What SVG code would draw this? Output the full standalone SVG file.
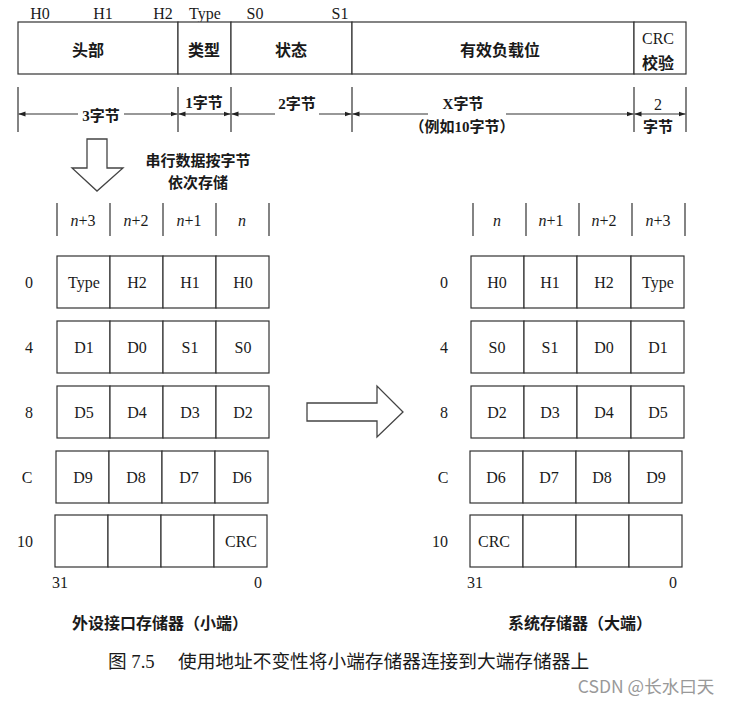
<svg xmlns="http://www.w3.org/2000/svg" width="730" height="701" viewBox="0 0 730 701">
<style>
.t{font-family:"Liberation Serif","Noto Sans CJK SC",serif;font-size:16px;fill:#1a1a1a;text-anchor:middle;dominant-baseline:central}
.c{font-family:"Noto Sans CJK SC","Liberation Serif",sans-serif;font-size:16px;fill:#1a1a1a;text-anchor:middle;dominant-baseline:central;font-weight:bold}
.d{font-family:"Liberation Serif","Noto Sans CJK SC",serif;font-size:15px;fill:#1a1a1a;text-anchor:middle;dominant-baseline:central;font-weight:bold}
.i{font-style:italic}
.box{fill:#fff;stroke:#333;stroke-width:1.2}
.ln{stroke:#333;stroke-width:1.2;fill:none}
.blk{fill:#fff;stroke:#444;stroke-width:1.3}
.cap{font-family:"Liberation Serif","Noto Sans CJK SC",serif;font-size:18.7px;fill:#1a1a1a;dominant-baseline:central}
.wm{font-family:"Noto Sans CJK SC","Liberation Sans",sans-serif;font-size:17.5px;fill:#999;text-anchor:middle;dominant-baseline:central}
.note{font-family:"Noto Sans CJK SC",sans-serif;font-size:15px;fill:#1a1a1a;text-anchor:middle;dominant-baseline:central;font-weight:bold}
</style>
<defs>
<marker id="ah" viewBox="0 0 10 10" refX="10" refY="5" markerWidth="7" markerHeight="7" orient="auto-start-reverse" markerUnits="userSpaceOnUse">
<path d="M0,1.5 L10,5 L0,8.5 Z" fill="#222"/>
</marker>
</defs>
<rect width="730" height="701" fill="#fff"/>

<g id="frame">
<g id="labels-top">
<text class="t" x="40" y="13">H0</text>
<text class="t" x="103" y="13">H1</text>
<text class="t" x="163" y="13">H2</text>
<text class="t" x="205" y="13">Type</text>
<text class="t" x="255" y="13">S0</text>
<text class="t" x="340" y="13">S1</text>
</g>
<g id="f-head"><rect class="box" x="18" y="22" width="160" height="52"/><text class="c" x="88" y="49">头部</text></g>
<g id="f-type"><rect class="box" x="178" y="22" width="53" height="52"/><text class="c" x="204" y="49">类型</text></g>
<g id="f-state"><rect class="box" x="231" y="22" width="121" height="52"/><text class="c" x="291" y="49">状态</text></g>
<g id="f-payload"><rect class="box" x="352" y="22" width="282" height="52"/><text class="c" x="500" y="49">有效负载位</text></g>
<g id="f-crc"><rect class="box" x="634" y="22" width="52" height="52"/><text class="t" x="658" y="38">CRC</text><text class="c" x="658" y="62">校验</text></g>
</g>

<g id="dimensions">
<path class="ln" d="M18,87V132M178,87V132M231,87V132M352,87V132M634,87V132M686,87V132"/>
<line class="ln" x1="78" y1="114" x2="18.5" y2="114" marker-end="url(#ah)"/>
<line class="ln" x1="124" y1="114" x2="177.5" y2="114" marker-end="url(#ah)"/>
<text class="d" x="101" y="116">3字节</text>
<line class="ln" x1="178.5" y1="114" x2="230.5" y2="114" marker-start="url(#ah)" marker-end="url(#ah)"/>
<text class="d" x="204" y="103">1字节</text>
<line class="ln" x1="275" y1="114" x2="231.5" y2="114" marker-end="url(#ah)"/>
<line class="ln" x1="319" y1="114" x2="351.5" y2="114" marker-end="url(#ah)"/>
<text class="d" x="297" y="104">2字节</text>
<line class="ln" x1="428" y1="114" x2="352.5" y2="114" marker-end="url(#ah)"/>
<line class="ln" x1="506" y1="114" x2="633.5" y2="114" marker-end="url(#ah)"/>
<text class="d" x="463" y="104">X字节</text>
<text class="d" x="462" y="127">（例如10字节）</text>
<line class="ln" x1="634.5" y1="114" x2="685.5" y2="114" marker-start="url(#ah)" marker-end="url(#ah)"/>
<text class="t" x="658" y="104">2</text>
<text class="d" x="658" y="127">字节</text>
</g>

<g id="arrow-down">
<path class="blk" d="M87,139H107V168H123L97,191L72,168H87Z"/>
<text class="note" x="198" y="159">串行数据按字节</text>
<text class="note" x="198" y="181">依次存储</text>
</g>
<g id="arrow-right">
<path class="blk" d="M307,403H377V386L403,412L377,437V421H307Z"/>
</g>

<g id="left-memory">
<path class="ln" d="M57,203V236M110,203V236M163,203V236M216,203V236M269,203V236"/>
<text class="t" x="83" y="220"><tspan class="i">n</tspan>+3</text>
<text class="t" x="136" y="220"><tspan class="i">n</tspan>+2</text>
<text class="t" x="189" y="220"><tspan class="i">n</tspan>+1</text>
<text class="t i" x="242" y="220">n</text>
<g id="L0">
<text class="t" x="29" y="282">0</text>
<rect class="box" x="57" y="256" width="53" height="52"/><rect class="box" x="110" y="256" width="53" height="52"/><rect class="box" x="163" y="256" width="53" height="52"/><rect class="box" x="216" y="256" width="53" height="52"/>
<text class="t" x="84" y="282">Type</text><text class="t" x="137" y="282">H2</text><text class="t" x="190" y="282">H1</text><text class="t" x="243" y="282">H0</text>
</g>
<g id="L4">
<text class="t" x="29" y="347">4</text>
<rect class="box" x="57" y="321" width="53" height="52"/><rect class="box" x="110" y="321" width="53" height="52"/><rect class="box" x="163" y="321" width="53" height="52"/><rect class="box" x="216" y="321" width="53" height="52"/>
<text class="t" x="84" y="347">D1</text><text class="t" x="137" y="347">D0</text><text class="t" x="190" y="347">S1</text><text class="t" x="243" y="347">S0</text>
</g>
<g id="L8">
<text class="t" x="29" y="412">8</text>
<rect class="box" x="57" y="386" width="53" height="52"/><rect class="box" x="110" y="386" width="53" height="52"/><rect class="box" x="163" y="386" width="53" height="52"/><rect class="box" x="216" y="386" width="53" height="52"/>
<text class="t" x="84" y="412">D5</text><text class="t" x="137" y="412">D4</text><text class="t" x="190" y="412">D3</text><text class="t" x="243" y="412">D2</text>
</g>
<g id="LC">
<text class="t" x="27" y="477">C</text>
<rect class="box" x="56" y="451" width="53" height="52"/><rect class="box" x="109" y="451" width="53" height="52"/><rect class="box" x="162" y="451" width="53" height="52"/><rect class="box" x="215" y="451" width="53" height="52"/>
<text class="t" x="83" y="477">D9</text><text class="t" x="136" y="477">D8</text><text class="t" x="189" y="477">D7</text><text class="t" x="242" y="477">D6</text>
</g>
<g id="L10">
<text class="t" x="25" y="541">10</text>
<rect class="box" x="55" y="515" width="53" height="52"/><rect class="box" x="108" y="515" width="53" height="52"/><rect class="box" x="161" y="515" width="53" height="52"/><rect class="box" x="214" y="515" width="53" height="52"/>
<text class="t" x="241" y="541">CRC</text>
</g>
<text class="t" x="60" y="582">31</text>
<text class="t" x="258" y="582">0</text>
<text class="c" x="160" y="622">外设接口存储器（小端）</text>
</g>

<g id="right-memory">
<path class="ln" d="M473,203V236M526,203V236M579,203V236M632,203V236M685,203V236"/>
<text class="t i" x="497" y="220">n</text>
<text class="t" x="551" y="220"><tspan class="i">n</tspan>+1</text>
<text class="t" x="604" y="220"><tspan class="i">n</tspan>+2</text>
<text class="t" x="658" y="220"><tspan class="i">n</tspan>+3</text>
<g id="R0">
<text class="t" x="444" y="282">0</text>
<rect class="box" x="471" y="256" width="53" height="52"/><rect class="box" x="524" y="256" width="53" height="52"/><rect class="box" x="577" y="256" width="54" height="52"/><rect class="box" x="631" y="256" width="53" height="52"/>
<text class="t" x="497" y="282">H0</text><text class="t" x="550" y="282">H1</text><text class="t" x="604" y="282">H2</text><text class="t" x="658" y="282">Type</text>
</g>
<g id="R4">
<text class="t" x="444" y="347">4</text>
<rect class="box" x="471" y="321" width="53" height="52"/><rect class="box" x="524" y="321" width="53" height="52"/><rect class="box" x="577" y="321" width="54" height="52"/><rect class="box" x="631" y="321" width="53" height="52"/>
<text class="t" x="497" y="347">S0</text><text class="t" x="550" y="347">S1</text><text class="t" x="604" y="347">D0</text><text class="t" x="658" y="347">D1</text>
</g>
<g id="R8">
<text class="t" x="444" y="412">8</text>
<rect class="box" x="471" y="386" width="53" height="52"/><rect class="box" x="524" y="386" width="53" height="52"/><rect class="box" x="577" y="386" width="54" height="52"/><rect class="box" x="631" y="386" width="53" height="52"/>
<text class="t" x="497" y="412">D2</text><text class="t" x="550" y="412">D3</text><text class="t" x="604" y="412">D4</text><text class="t" x="658" y="412">D5</text>
</g>
<g id="RC">
<text class="t" x="443" y="477">C</text>
<rect class="box" x="470" y="451" width="53" height="52"/><rect class="box" x="523" y="451" width="53" height="52"/><rect class="box" x="576" y="451" width="53" height="52"/><rect class="box" x="629" y="451" width="53" height="52"/>
<text class="t" x="496" y="477">D6</text><text class="t" x="549" y="477">D7</text><text class="t" x="602" y="477">D8</text><text class="t" x="656" y="477">D9</text>
</g>
<g id="R10">
<text class="t" x="440" y="541">10</text>
<rect class="box" x="470" y="515" width="53" height="52"/><rect class="box" x="523" y="515" width="53" height="52"/><rect class="box" x="576" y="515" width="53" height="52"/><rect class="box" x="629" y="515" width="53" height="52"/>
<text class="t" x="494" y="541">CRC</text>
</g>
<text class="t" x="475" y="582">31</text>
<text class="t" x="673" y="582">0</text>
<text class="c" x="580" y="622">系统存储器（大端）</text>
</g>

<g id="caption">
<text class="cap" x="108" y="661">图 7.5</text>
<text class="cap" x="178" y="661">使用地址不变性将小端存储器连接到大端存储器上</text>
<text class="wm" x="646" y="685">CSDN @长水曰天</text>
</g>
</svg>
